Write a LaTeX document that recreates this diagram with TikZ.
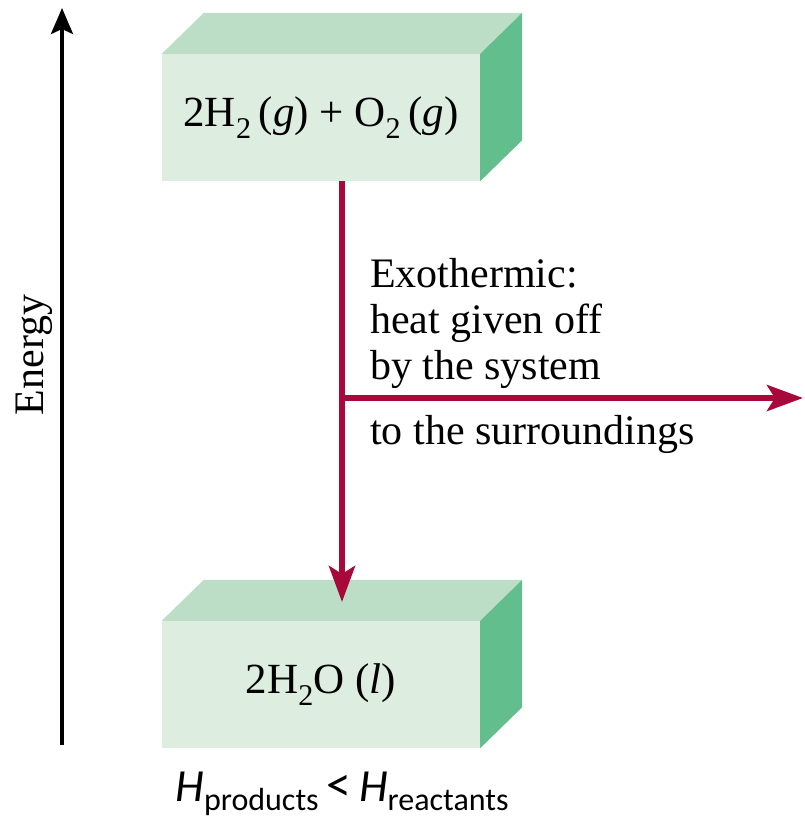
\documentclass[tikz,border=0pt]{standalone}
\usepackage{fontspec}
\setmainfont{Liberation Serif}
\newfontfamily\calibrifont{Carlito}
\usepackage{xcolor}
\usetikzlibrary{arrows.meta}
\definecolor{frontgreen}{RGB}{221, 237, 224}
\definecolor{topgreen}{RGB}{188, 222, 198}
\definecolor{sidegreen}{RGB}{98, 190, 140}
\definecolor{heatred}{RGB}{168, 8, 58}

\begin{document}
\begin{tikzpicture}[
  x=1pt, y=-1pt,
  slab/.style   = {rectangle, fill=frontgreen, inner sep=0pt,
                   minimum width=318pt, minimum height=127pt,
                   font=\fontsize{43}{48}\selectfont},
  topface/.style  = {fill=topgreen},
  sideface/.style = {fill=sidegreen},
  heat/.style   = {-{Stealth[length=36pt, width=26pt, inset=8pt]},
                   line width=6pt, color=heatred},
  axis/.style   = {-{Stealth[length=26pt, width=22pt, inset=5pt]},
                   line width=3.5pt, black},
  lbl/.style    = {inner sep=0pt, font=\fontsize{42}{46}\selectfont}
]
  \useasboundingbox (0,0) rectangle (805,820);

  % ---- Energy axis ----
  \coordinate (elow)  at (62, 745);
  \coordinate (ehigh) at (62, 8);
  \draw[axis] (elow) -- (ehigh);
  \node[lbl, rotate=90] at (34, 355) (energy) {Energy};

  % ---- Reactants block ----
  \node[slab] at (321, 117.5) (reac)
    {2H\textsubscript{2}\,(\textit{g}) + O\textsubscript{2}\,(\textit{g})};
  \fill[topface]  (reac.north west) -- ([shift={(42,-41)}]reac.north west)
                  -- ([shift={(42,-41)}]reac.north east) -- (reac.north east) -- cycle;
  \fill[sideface] (reac.north east) -- ([shift={(42,-41)}]reac.north east)
                  -- ([shift={(42,-41)}]reac.south east) -- (reac.south east) -- cycle;

  % ---- Products block ----
  \node[slab] at (321, 684.5) (prod) {2H\textsubscript{2}O (\textit{l})};
  \fill[topface]  (prod.north west) -- ([shift={(42,-41)}]prod.north west)
                  -- ([shift={(42,-41)}]prod.north east) -- (prod.north east) -- cycle;
  \fill[sideface] (prod.north east) -- ([shift={(42,-41)}]prod.north east)
                  -- ([shift={(42,-41)}]prod.south east) -- (prod.south east) -- cycle;

  % ---- Heat flow ----
  \coordinate (split) at (342, 398);
  \coordinate (drop)  at (342, 602);
  \coordinate (out)   at (803, 398);
  \draw[heat] (reac.south -| split) -- (drop);
  \draw[heat] (split) -- (out);

  \node[lbl, align=left, anchor=south west] at (370, 389) (exo)
    {Exothermic:\\heat given off\\by the system};
  \node[lbl, anchor=base west] at (370, 444) (surr) {to the surroundings};

  % ---- Enthalpy relation ----
  \node[inner sep=0pt, anchor=base, font=\calibrifont\fontsize{46}{50}\selectfont]
    at (342, 801) (rel)
    {\textit{H}\raisebox{-0.2em}{\fontsize{32}{35}\selectfont products}\,{\fontsize{50}{50}\selectfont<}\,\textit{H}\raisebox{-0.2em}{\fontsize{32}{35}\selectfont reactants}};
\end{tikzpicture}
\end{document}
